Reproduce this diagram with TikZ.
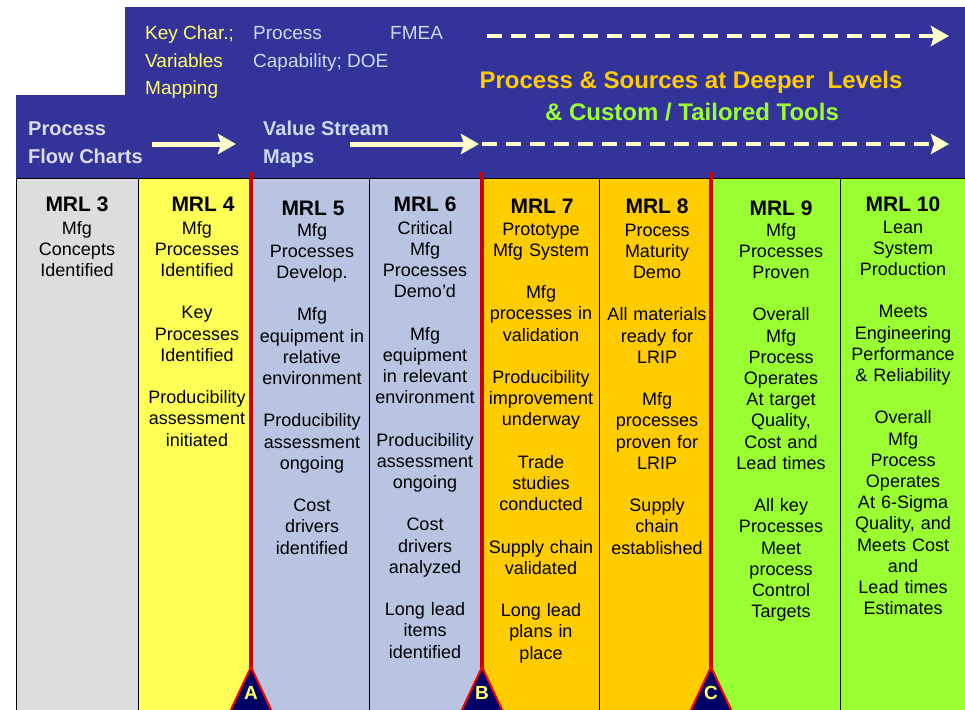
\documentclass[tikz,border=0pt]{standalone}
\usepackage{fontspec}
\setmainfont{Liberation Sans}
\usetikzlibrary{arrows.meta}
\definecolor{banner}{HTML}{333399}
\definecolor{cgray}{HTML}{DDDDDD}
\definecolor{cyellow}{HTML}{FFFF55}
\definecolor{cblue}{HTML}{B9C4E2}
\definecolor{corange}{HTML}{FFCC00}
\definecolor{cgreen}{HTML}{99FF33}
\definecolor{mred}{HTML}{CC0000}
\definecolor{navy}{HTML}{000066}
\definecolor{arrowcol}{HTML}{FFFFCC}
\definecolor{keyyellow}{HTML}{FFFF66}
\definecolor{lightblue}{HTML}{C8DCF0}
\definecolor{lightgray}{HTML}{DCDCE6}
\definecolor{titleorange}{HTML}{FFCC00}
\definecolor{titlegreen}{HTML}{99FF33}
\begin{document}
\begin{tikzpicture}[x=1pt,y=-1pt,
  colbox/.style={draw=black,line width=0.8pt},
  mrlhead/.style={anchor=base,inner sep=0pt,font=\fontsize{21}{21}\selectfont\bfseries},
  colbody/.style={anchor=base,inner sep=0pt,text width=150pt,align=center,font=\fontsize{18}{21.2}\selectfont},
  bantext/.style={anchor=base west,inner sep=0pt,font=\fontsize{19}{27}\selectfont},
  banbold/.style={anchor=base west,inner sep=0pt,font=\fontsize{20}{28}\selectfont\bfseries},
  titletext/.style={anchor=base,inner sep=0pt,font=\fontsize{24}{24}\selectfont\bfseries},
  solidarrow/.style={draw=arrowcol,line width=5pt,-{Stealth[length=18pt,width=20pt,inset=3pt]}},
  dasharrow/.style={draw=arrowcol,line width=4.5pt,dash pattern=on 15pt off 9pt,-{Stealth[length=18pt,width=20pt,inset=3pt,sep=0pt]}},
  redline/.style={draw=mred,line width=4pt},
  gate/.style={fill=navy,draw=red,line width=2pt,line join=miter},
  gatelabel/.style={anchor=base,inner sep=0pt,text=keyyellow,font=\fontsize{19}{19}\selectfont\bfseries}
]
\useasboundingbox (0,0) rectangle (965,709);
\clip (0,0) rectangle (965,709);
\fill[white] (0,0) rectangle (965,709);

% columns
\path[colbox,fill=cgray]   (16,178) rectangle (138.5,720);
\path[colbox,fill=cyellow] (138.5,178) rectangle (251,720);
\path[colbox,fill=cblue]   (251,178) rectangle (369,720);
\path[colbox,fill=cblue]   (369,178) rectangle (482,720);
\path[colbox,fill=corange] (482,178) rectangle (599,720);
\path[colbox,fill=corange] (599,178) rectangle (711,720);
\path[colbox,fill=cgreen]  (711,178) rectangle (840,720);
\path[colbox,fill=cgreen]  (840,178) rectangle (970,720);

% banner
\fill[banner] (125,7) rectangle (970,178);
\fill[banner] (16,95) rectangle (970,178);
\draw[black,line width=0.8pt] (16,178) -- (970,178);

% gate lines and triangles
\draw[redline] (251,172) -- (251,672);
\draw[redline] (482,172) -- (482,672);
\draw[redline] (711,172) -- (711,672);
\path[gate] (251,667) -- (274,716) -- (228,716) -- cycle;
\path[gate] (482,667) -- (505,716) -- (459,716) -- cycle;
\path[gate] (711,667) -- (734,716) -- (688,716) -- cycle;
\node[gatelabel] (ga) at (251,699) {A};
\node[gatelabel] (gb) at (482,699) {B};
\node[gatelabel] (gc) at (711,699) {C};

% banner texts
\node[bantext,text=keyyellow] (kc1) at (145,40) {Key Char.;};
\node[bantext,text=keyyellow] (kc2) at (145,67) {Variables};
\node[bantext,text=keyyellow] (kc3) at (145,94) {Mapping};
\node[bantext,text=lightblue] (pc1) at (253,40) {Process};
\node[bantext,text=lightblue] (fmea) at (390,40) {FMEA};
\node[bantext,text=lightblue] (pc2) at (253,67) {Capability;\ DOE};
\node[banbold,text=lightgray] (pf1) at (28,135) {Process};
\node[banbold,text=lightgray] (pf2) at (28,163) {Flow Charts};
\node[banbold,text=lightblue] (vs1) at (263,135) {Value Stream};
\node[banbold,text=lightblue] (vs2) at (263,163) {Maps};
\node[titletext,text=titleorange] (t1) at (691,88) {Process \& Sources at Deeper\ \ Levels};
\node[titletext,text=titlegreen] (t2) at (692,120) {\& Custom / Tailored Tools};

% banner arrows
\coordinate (a1s) at (152,144);
\coordinate (a1e) at (236,144);
\coordinate (a2s) at (350,144);
\coordinate (a2e) at (479,144);
\coordinate (d1s) at (487,36);
\coordinate (d1e) at (949,36);
\coordinate (d2s) at (482,144);
\coordinate (d2e) at (949,144);
\draw[solidarrow] (a1s) -- (a1e);
\draw[solidarrow] (a2s) -- (a2e);
\draw[dasharrow] (d1s) -- (d1e);
\draw[dasharrow] (d2s) -- (d2e);

% column headings
\node[mrlhead] (h3) at (77,211) {MRL 3};
\node[mrlhead] (h4) at (203,211) {MRL 4};
\node[mrlhead] (h5) at (313,215) {MRL 5};
\node[mrlhead] (h6) at (425,211) {MRL 6};
\node[mrlhead] (h7) at (542,213) {MRL 7};
\node[mrlhead] (h8) at (657,213) {MRL 8};
\node[mrlhead] (h9) at (781,215) {MRL 9};
\node[mrlhead] (h10) at (903,211) {MRL 10};

% column bodies
\node[colbody] (b3) at (77,234) {Mfg\\Concepts\\Identified};
\node[colbody] (b4) at (197,234) {Mfg\\Processes\\Identified\\[21.2pt]Key\\Processes\\Identified\\[21.2pt]Producibility\\assessment\\initiated};
\node[colbody] (b5) at (312,236) {Mfg\\Processes\\Develop.\\[21.2pt]Mfg\\equipment in\\relative\\environment\\[21.2pt]Producibility\\assessment\\ongoing\\[21.2pt]Cost\\drivers\\identified};
\node[colbody] (b6) at (425,234) {Critical\\Mfg\\Processes\\Demo’d\\[21.2pt]Mfg\\equipment\\in relevant\\environment\\[21.2pt]Producibility\\assessment\\ongoing\\[21.2pt]Cost\\drivers\\analyzed\\[21.2pt]Long lead\\items\\identified};
\node[colbody] (b7) at (541,235) {Prototype\\Mfg System\\[21.2pt]Mfg\\processes in\\validation\\[21.2pt]Producibility\\improvement\\underway\\[21.2pt]Trade\\studies\\conducted\\[21.2pt]Supply chain\\validated\\[21.2pt]Long lead\\plans in\\place};
\node[colbody] (b8) at (657,236) {Process\\Maturity\\Demo\\[21.2pt]All materials\\ready for\\LRIP\\[21.2pt]Mfg\\processes\\proven for\\LRIP\\[21.2pt]Supply\\chain\\established};
\node[colbody] (b9) at (781,236) {Mfg\\Processes\\Proven\\[21.2pt]Overall\\Mfg\\Process\\Operates\\At target\\Quality,\\Cost and\\Lead times\\[21.2pt]All key\\Processes\\Meet\\process\\Control\\Targets};
\node[colbody] (b10) at (903,233) {Lean\\System\\Production\\[21.2pt]Meets\\Engineering\\Performance\\\& Reliability\\[21.2pt]Overall\\Mfg\\Process\\Operates\\At 6-Sigma\\Quality, and\\Meets Cost\\and\\Lead times\\Estimates};
\end{tikzpicture}
\end{document}
